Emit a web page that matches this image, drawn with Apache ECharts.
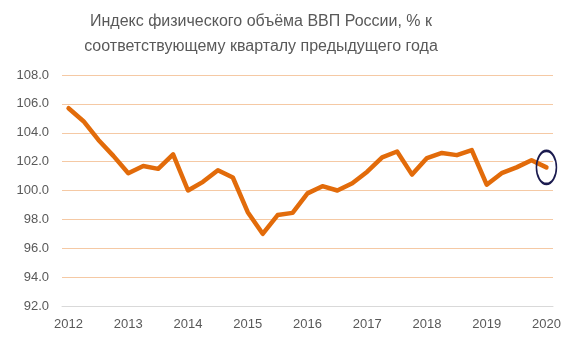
<!DOCTYPE html>
<html><head><meta charset="utf-8">
<script src="https://cdn.jsdelivr.net/npm/echarts@6/dist/echarts.min.js"></script>
<style>html,body{margin:0;padding:0;background:#fff}#c{width:580px;height:363px}</style>
</head><body><div id="c"></div>
<script>
// Quarterly GDP index, 2012Q1 .. 2020Q1
const yearLabels = ['2012','2013','2014','2015','2016','2017','2018','2019','2020'];
const gdpIndex = [105.7,104.8,103.5,102.4,101.2,101.7,101.5,102.5,
                  100.0,100.6,101.4,100.9,98.5,97.0,98.3,98.45,
                  99.8,100.3,100.0,100.5,101.3,102.3,102.7,101.1,
                  102.25,102.6,102.45,102.8,100.4,101.2,101.6,102.1,101.6];
const quarterIdx = gdpIndex.map((_, i) => i);
const titleText = 'Индекс физического объёма ВВП России, % к\nсоответствующему кварталу предыдущего года';

const chart = echarts.init(document.getElementById('c'), null, {renderer:'canvas'});
const font = 'Liberation Sans, Arial, sans-serif';
const last = gdpIndex.length - 1;
chart.setOption({
  animation:false,
  title:{text:titleText,left:261,top:9,padding:0,textAlign:'center',
    textStyle:{fontFamily:font,fontSize:16,fontWeight:'normal',color:'#595959',lineHeight:25}},
  grid:{left:62,right:27,top:75,bottom:57},
  xAxis:{type:'value',min:-0.44,max:last+0.44,
    axisLine:{show:true,lineStyle:{color:'#d9d9d9',width:1}},
    axisTick:{show:false},splitLine:{show:false},
    axisLabel:{customValues:yearLabels.map((_, i) => i*4),
      formatter:v => yearLabels[Math.round(v/4)],
      fontFamily:font,fontSize:13,color:'#595959',margin:12}},
  yAxis:{type:'value',min:92,max:108,interval:2,
    axisLine:{show:false},axisTick:{show:false},
    splitLine:{lineStyle:{color:'#F5C9A4',width:1}},
    axisLabel:{formatter:v => v.toFixed(1),fontFamily:font,fontSize:13,color:'#595959',margin:13}},
  series:[{type:'line',data:quarterIdx.map(i => [i, gdpIndex[i]]),
    symbol:'none',lineStyle:{color:'#E26B0A',width:4.5,join:'round',cap:'round'},
    markPoint:{silent:true,symbol:'circle',symbolSize:[20,33],
      itemStyle:{color:'rgba(0,0,0,0)',borderColor:'#1B1B4F',borderWidth:2},
      label:{show:false},
      data:[{coord:[last, gdpIndex[last]]}]}}]
});
</script></body></html>
